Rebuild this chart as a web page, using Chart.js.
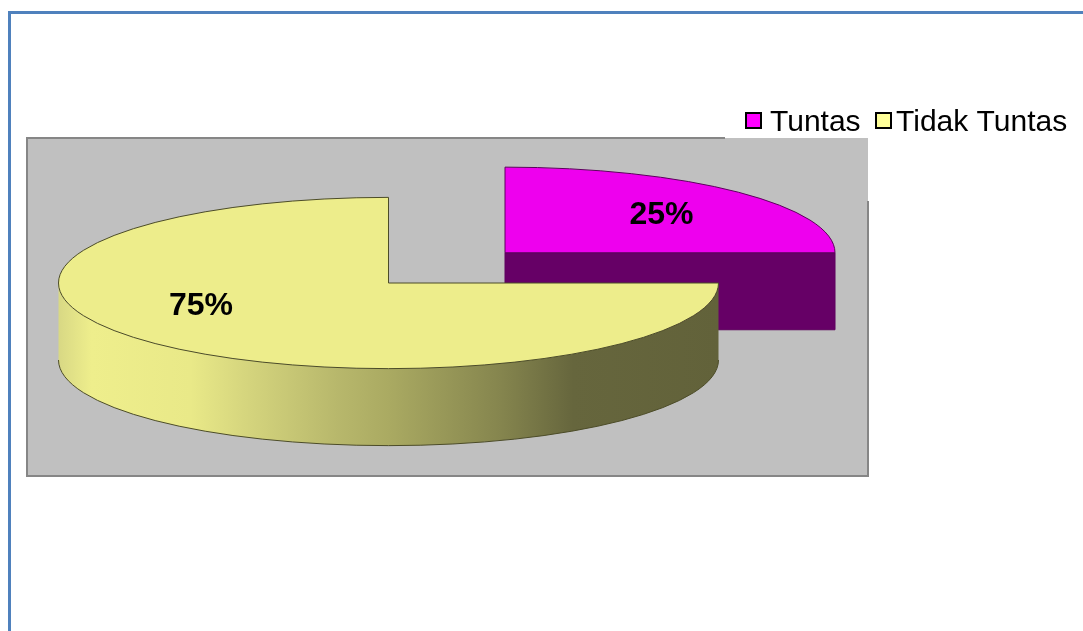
<!DOCTYPE html>
<html>
<head>
<meta charset="utf-8">
<style>html,body{margin:0;padding:0;background:#fff}canvas{display:block}</style>
<script src="https://cdn.jsdelivr.net/npm/chart.js@4"></script>
</head>
<body>
<canvas id="c" width="1083" height="631"></canvas>
<script>
const categories = ['Tuntas', 'Tidak Tuntas'];
const percentValues = [25, 75];
const topColors = ['#EE00EE', '#EDED8B'];
const legendColors = ['#FF00FF', '#FFFF99'];
const edgeColors = ['#5E005E', '#4C4C28'];

const ZOOM = 3, SQUASH = 0.2595, RADIUS = 110, DEPTH = 77, BASE_X = 388.5, BASE_Y = 283, EXPLODE = 219.7;
const labelPos = [[661.5, 224], [201, 315]];
const legendPos = [[746, 770], [876, 896]];
const wallStops = [[0,'#D8D884'],[0.05,'#EEEE8C'],[0.2,'#E9E988'],[0.28,'#D6D67E'],[0.42,'#B8B86C'],[0.5,'#AAAA62'],[0.67,'#85854E'],[0.78,'#66663D'],[1,'#62623A']];

function geom(chart, el) {
  const off = el.options.offset / 4;
  const mid = (el.startAngle + el.endAngle) / 2;
  const fix = 1 - Math.sin(Math.min(Math.PI, el.circumference));
  const o = off * (1 + fix) * ZOOM;
  return {
    cx: BASE_X + Math.cos(mid) * o,
    cy: BASE_Y + Math.sin(mid) * o * SQUASH,
    rx: el.outerRadius * ZOOM, ry: el.outerRadius * ZOOM * SQUASH
  };
}
function topPath(ctx, g, el) {
  ctx.beginPath();
  ctx.moveTo(g.cx, g.cy);
  ctx.ellipse(g.cx, g.cy, g.rx, g.ry, 0, el.startAngle, el.endAngle);
  ctx.closePath();
}

const pie3d = {
  id: 'pie3d',
  beforeDraw(chart) {
    const c = chart.ctx;
    c.save();
    c.fillStyle = '#fff'; c.fillRect(0, 0, 1083, 631);
    c.fillStyle = '#4F81BD';
    c.fillRect(8, 11, 1075, 3);
    c.fillRect(8, 11, 3, 620);
    c.fillStyle = '#C0C0C0'; c.fillRect(27, 138, 841, 338);
    c.fillStyle = '#868686';
    c.fillRect(26, 137, 699, 2);
    c.fillRect(26, 137, 2, 340);
    c.fillRect(26, 475, 843, 2);
    c.fillRect(867, 201, 2, 276);
    c.restore();
  },
  beforeDatasetsDraw(chart) {
    const c = chart.ctx;
    const arcs = chart.getDatasetMeta(0).data;
    arcs.forEach((el, i) => {
      const g = geom(chart, el);
      c.save();
      c.lineWidth = 1;
      c.strokeStyle = edgeColors[i];
      if (i === 0) {
        const x1 = g.cx + g.rx * Math.cos(el.endAngle);
        c.fillStyle = '#660066';
        c.beginPath();
        c.rect(g.cx, g.cy, x1 - g.cx, DEPTH);
        c.fill(); c.stroke();
      } else {
        const grad = c.createLinearGradient(g.cx - g.rx, 0, g.cx + g.rx, 0);
        wallStops.forEach(s => grad.addColorStop(s[0], s[1]));
        c.fillStyle = grad;
        c.beginPath();
        c.ellipse(g.cx, g.cy, g.rx, g.ry, 0, 0, Math.PI);
        c.ellipse(g.cx, g.cy + DEPTH, g.rx, g.ry, 0, Math.PI, 0, true);
        c.closePath();
        c.fill();
        c.beginPath();
        c.ellipse(g.cx, g.cy + DEPTH, g.rx, g.ry, 0, Math.PI, 0, true);
        c.stroke();
      }
      c.restore();
    });
    const ref = arcs[0];
    c.save();
    c.translate(BASE_X, BASE_Y);
    c.scale(ZOOM, ZOOM * SQUASH);
    c.translate(-ref.x, -ref.y);
  },
  afterDatasetsDraw(chart) {
    const c = chart.ctx;
    c.restore();
    const arcs = chart.getDatasetMeta(0).data;
    arcs.forEach((el, i) => {
      const g = geom(chart, el);
      c.save();
      c.lineWidth = 1;
      c.strokeStyle = edgeColors[i];
      topPath(c, g, el);
      c.stroke();
      c.restore();
    });
    c.save();
    c.fillStyle = '#000';
    c.font = 'bold 32px "Liberation Sans"';
    c.textAlign = 'center';
    c.textBaseline = 'alphabetic';
    percentValues.forEach((v, i) => c.fillText(v + '%', labelPos[i][0], labelPos[i][1]));
    c.font = '30px "Liberation Sans"';
    c.textAlign = 'left';
    categories.forEach((name, i) => {
      c.fillStyle = legendColors[i];
      c.strokeStyle = '#000';
      c.lineWidth = 2;
      c.fillRect(legendPos[i][0], 113, 15, 15);
      c.strokeRect(legendPos[i][0], 113, 15, 15);
      c.fillStyle = '#000';
      c.fillText(name, legendPos[i][1], 131);
    });
    c.restore();
  }
};

new Chart(document.getElementById('c'), {
  type: 'pie',
  data: {
    labels: categories,
    datasets: [{
      data: percentValues,
      backgroundColor: topColors,
      borderWidth: 0,
      hoverOffset: 0,
      clip: false
    }]
  },
  options: {
    responsive: false,
    animation: false,
    events: [],
    radius: RADIUS,
    elements: { arc: { offset: ctx => ctx.dataIndex === 0 ? EXPLODE : 0 } },
    plugins: { legend: { display: false }, tooltip: { enabled: false } }
  },
  plugins: [pie3d]
});
</script>
</body>
</html>
